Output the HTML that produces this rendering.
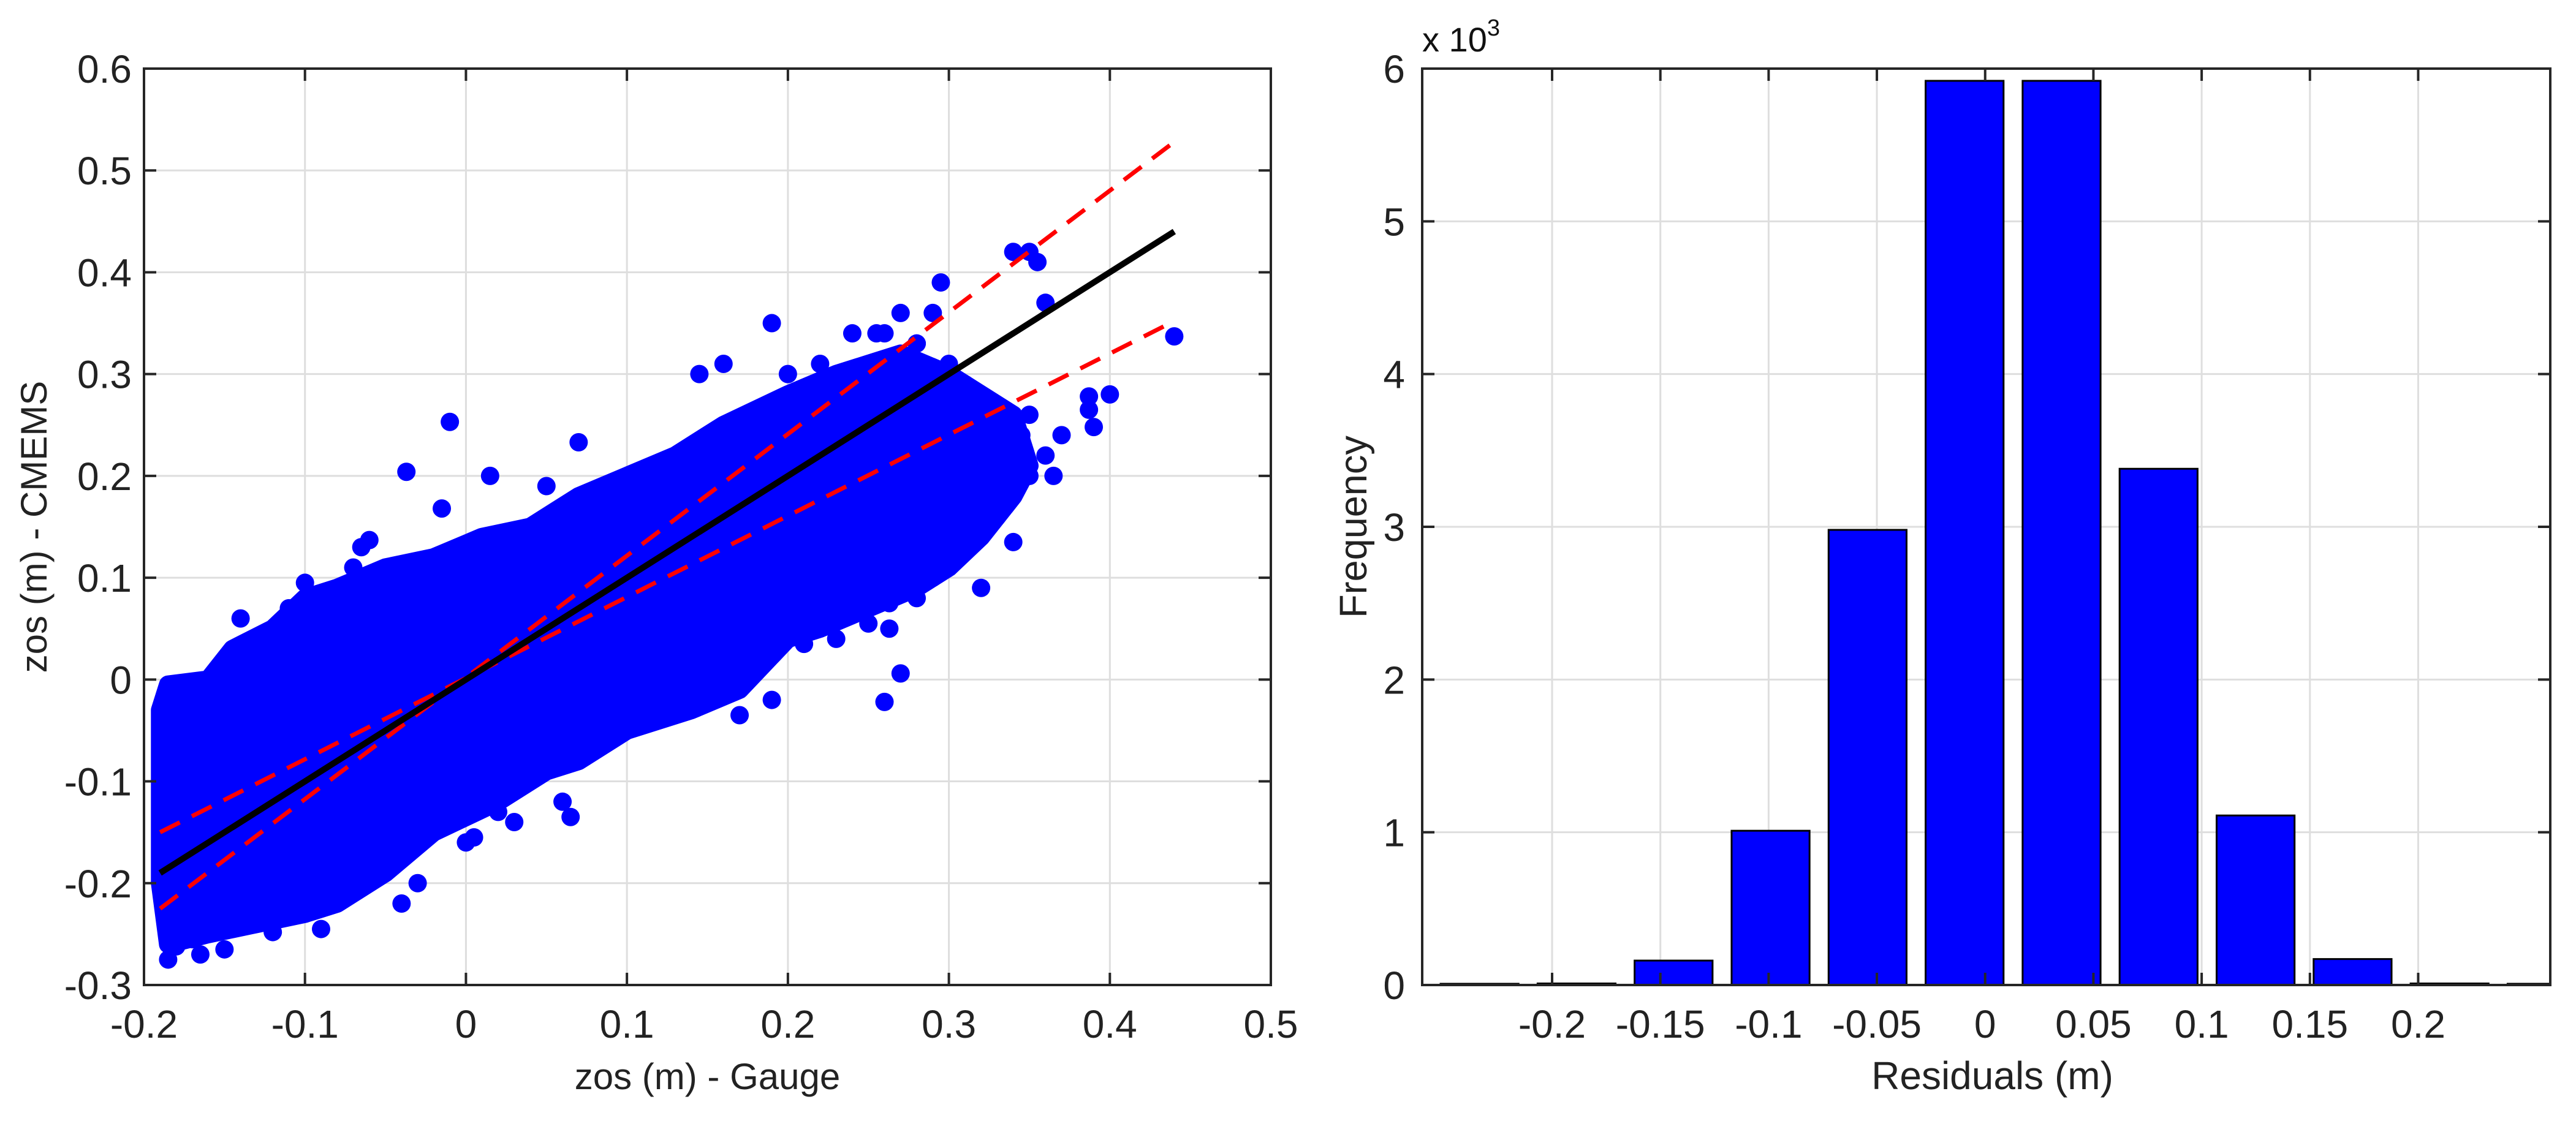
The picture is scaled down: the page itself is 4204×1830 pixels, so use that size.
<!DOCTYPE html>
<html><head><meta charset="utf-8"><style>
html,body{margin:0;padding:0;background:#fff;}
svg{display:block;font-family:"Liberation Sans",sans-serif;}
</style></head><body>
<svg id="fig" width="4204" height="1830" viewBox="0 0 4204 1830" xmlns="http://www.w3.org/2000/svg">
<defs>
<clipPath id="clipL"><rect x="235" y="112" width="1839" height="1496"/></clipPath>
<clipPath id="clipR"><rect x="2321" y="112" width="1841" height="1496"/></clipPath>
</defs>
<g id="left"></g>
<g id="right"></g>
</svg>
<script>
// ---------- Scatter data ----------
const xTicksL = [-0.2,-0.1,0,0.1,0.2,0.3,0.4,0.5];
const yTicksL = [-0.3,-0.2,-0.1,0,0.1,0.2,0.3,0.4,0.5,0.6];
const xTickLabelsL = ["-0.2","-0.1","0","0.1","0.2","0.3","0.4","0.5"];
const yTickLabelsL = ["-0.3","-0.2","-0.1","0","0.1","0.2","0.3","0.4","0.5","0.6"];
const cloudX = [-0.19,-0.185,-0.16,-0.145,-0.12,-0.10,-0.08,-0.05,-0.02,0.01,0.04,0.07,0.10,0.13,0.16,0.20,0.23,0.25,0.27,0.30,0.32,0.34,
  0.35,0.34,0.32,0.30,0.28,0.25,0.22,0.20,0.17,0.14,0.10,0.07,0.05,0.02,-0.02,-0.05,-0.08,-0.10,-0.13,-0.16,-0.185,-0.19];
const cloudY = [-0.03,-0.005,0.0,0.03,0.05,0.08,0.09,0.11,0.12,0.14,0.15,0.18,0.20,0.22,0.25,0.28,0.30,0.31,0.32,0.30,0.28,0.26,
  0.21,0.18,0.14,0.11,0.09,0.07,0.05,0.04,-0.01,-0.03,-0.05,-0.08,-0.09,-0.12,-0.15,-0.19,-0.22,-0.23,-0.24,-0.25,-0.26,-0.2];
const outX = [0.44,0.40,0.39,0.387,0.387,0.37,0.365,0.36,0.355,0.35,0.34,0.34,0.32,0.31,0.33,0.30,0.295,0.29,0.27,0.27,0.26,0.263,0.263,0.255,0.19,0.19,0.17,0.16,0.145,0.07,0.05,0.015,-0.01,-0.037,-0.015,-0.065,-0.14,-0.10,-0.06,0.065,0.06,-0.165,-0.185,-0.15,-0.04,-0.03,0.005,0.03,0.28,0.30,0.31,0.35,0.36,0.34,0.28,0.29,0.25,0.23,0.21,-0.18,-0.17,-0.12,-0.09,
  0.24,0.26,0.28,0.22,0.2,0.32,0.33,0.345,0.31,0.3,0.33,0.27,0.12,0.09,0.15,-0.13,-0.11,-0.07,-0.185,-0.18,-0.175,0.0,0.02,0.11,0.13,0.35];
const outY = [0.337,0.28,0.248,0.265,0.278,0.24,0.20,0.37,0.41,0.42,0.42,0.135,0.09,0.16,0.16,0.14,0.39,0.36,0.36,0.006,-0.022,0.05,0.075,0.34,0.35,-0.02,-0.035,0.31,0.30,0.233,0.19,0.20,0.253,0.204,0.168,0.13,0.06,0.095,0.137,-0.135,-0.12,-0.27,-0.275,-0.265,-0.22,-0.20,-0.155,-0.14,0.33,0.31,0.29,0.20,0.22,0.25,0.08,0.10,0.055,0.04,0.035,-0.262,-0.255,-0.248,-0.245,
  0.34,0.34,0.33,0.31,0.3,0.26,0.23,0.24,0.2,0.18,0.22,0.1,-0.03,-0.05,0.0,0.04,0.07,0.11,-0.25,-0.24,-0.23,-0.16,-0.13,-0.04,-0.01,0.26];
const fitX = [-0.19,0.44];
const fitY = [-0.19,0.44];
const upperY = [-0.225,0.528];
const lowerY = [-0.15,0.352];

// ---------- Histogram data ----------
const binCenters = [-0.2335,-0.1887,-0.1439,-0.0991,-0.0543,-0.0095,0.0353,0.0801,0.1249,0.1697,0.2145,0.2593];
const binCounts = [0,10,160,1010,2980,5920,5920,3380,1110,170,10,0];
const xTicksR = [-0.2,-0.15,-0.1,-0.05,0,0.05,0.1,0.15,0.2];
const xTickLabelsR = ["-0.2","-0.15","-0.1","-0.05","0","0.05","0.1","0.15","0.2"];
const yTicksR = [0,1000,2000,3000,4000,5000,6000];
const yTickLabelsR = ["0","1","2","3","4","5","6"];

const NS="http://www.w3.org/2000/svg";
function mk(parent,tag,attrs,text){const e=document.createElementNS(NS,tag);for(const k in attrs)e.setAttribute(k,attrs[k]);if(text!==undefined)e.textContent=text;parent.appendChild(e);return e;}

const L={x0:235,x1:2074,y0:1608,y1:112,xmin:-0.2,xmax:0.5,ymin:-0.3,ymax:0.6};
const R={x0:2321,x1:4162,y0:1608,y1:112,xmin:-0.26,xmax:0.261,ymin:0,ymax:6000};
const sx=(A,v)=>A.x0+(v-A.xmin)/(A.xmax-A.xmin)*(A.x1-A.x0);
const sy=(A,v)=>A.y0-(v-A.ymin)/(A.ymax-A.ymin)*(A.y0-A.y1);

function frame(g,A,xt,xl,yt,yl,pad){
  xt.forEach((v,i)=>{const x=sx(A,v);
    const gl=mk(g,'line',{x1:x,x2:x,y1:A.y1,y2:A.y0,stroke:'#dedede','stroke-width':3});
    
    const t=mk(g,'text',{x:x,y:A.y0+86,'font-size':64,'text-anchor':'middle',fill:'#222'},xl[i]);
    });
  yt.forEach((v,i)=>{const y=sy(A,v);
    const gl=mk(g,'line',{x1:A.x0,x2:A.x1,y1:y,y2:y,stroke:'#dedede','stroke-width':3});
    
    const t=mk(g,'text',{x:A.x0-pad,y:y+23,'font-size':64,'text-anchor':'end',fill:'#222'},yl[i]);
    });
}
function ticks(g,A,xt,yt){
  xt.forEach(v=>{const x=sx(A,v);mk(g,'line',{x1:x,x2:x,y1:A.y0,y2:A.y0-20,stroke:'#262626','stroke-width':4});mk(g,'line',{x1:x,x2:x,y1:A.y1,y2:A.y1+20,stroke:'#262626','stroke-width':4});});
  yt.forEach(v=>{const y=sy(A,v);mk(g,'line',{x1:A.x0,x2:A.x0+20,y1:y,y2:y,stroke:'#262626','stroke-width':4});mk(g,'line',{x1:A.x1,x2:A.x1-20,y1:y,y2:y,stroke:'#262626','stroke-width':4});});
  const b=mk(g,'rect',{x:A.x0,y:A.y1,width:A.x1-A.x0,height:A.y0-A.y1,fill:'none',stroke:'#262626','stroke-width':4});
  
}

// ---- left scatter ----
const gL=document.getElementById('left');
frame(gL,L,xTicksL,xTickLabelsL,yTicksL,yTickLabelsL,20);
const marks=mk(gL,'g',{'clip-path':'url(#clipL)'});


const pts=cloudX.map((v,i)=>sx(L,v)+','+sy(L,cloudY[i])).join(' ');
const cloud=mk(marks,'polygon',{points:pts,fill:'#0000ff',stroke:'#0000ff','stroke-width':30,'stroke-linejoin':'round'});


outX.forEach((v,i)=>{
  const c=mk(marks,'circle',{cx:sx(L,v),cy:sy(L,outY[i]),r:15,fill:'#0000ff'});
  
  
});
const up=mk(marks,'line',{x1:sx(L,fitX[0]),y1:sy(L,upperY[0]),x2:sx(L,fitX[1]),y2:sy(L,upperY[1]),stroke:'#ff0000','stroke-width':7,'stroke-dasharray':'36 22'});


const lo=mk(marks,'line',{x1:sx(L,fitX[0]),y1:sy(L,lowerY[0]),x2:sx(L,fitX[1]),y2:sy(L,lowerY[1]),stroke:'#ff0000','stroke-width':7,'stroke-dasharray':'36 22'});


const fit=mk(marks,'line',{x1:sx(L,fitX[0]),y1:sy(L,fitY[0]),x2:sx(L,fitX[1]),y2:sy(L,fitY[1]),stroke:'#000','stroke-width':10});


ticks(gL,L,xTicksL,yTicksL);
const xtL=mk(gL,'text',{x:(L.x0+L.x1)/2,y:1778,'font-size':60,'text-anchor':'middle',fill:'#222'},'zos (m) - Gauge');


const ytL=mk(gL,'text',{x:0,y:0,'font-size':60,'text-anchor':'middle',fill:'#222',transform:'translate(76,'+((L.y0+L.y1)/2)+') rotate(-90)'},'zos (m) - CMEMS');



// ---- right histogram ----
const gR=document.getElementById('right');
frame(gR,R,xTicksR,xTickLabelsR,yTicksR,yTickLabelsR,28);
const bars=mk(gR,'g',{'clip-path':'url(#clipR)'});


const bw=0.036;
binCenters.forEach((c,i)=>{
  const x0=sx(R,c-bw/2),x1=sx(R,c+bw/2),y=Math.min(sy(R,binCounts[i]),R.y0-2);
  const r=mk(bars,'rect',{x:x0,y:y,width:x1-x0,height:R.y0-y,fill:'#0000ff',stroke:'#000','stroke-width':3});
  
  
});
ticks(gR,R,xTicksR,yTicksR);
const xtR=mk(gR,'text',{x:(R.x0+R.x1)/2+10,y:1778,'font-size':64,'text-anchor':'middle',fill:'#222'},'Residuals (m)');


const ytR=mk(gR,'text',{x:0,y:0,'font-size':63,'text-anchor':'middle',fill:'#222',transform:'translate(2230,'+((R.y0+R.y1)/2)+') rotate(-90)'},'Frequency');


const ex=mk(gR,'text',{x:2321,y:84,'font-size':56,fill:'#111'},'x 10');


const ex3=mk(ex,'tspan',{dy:-26,'font-size':38},'3');


</script>
</body></html>
